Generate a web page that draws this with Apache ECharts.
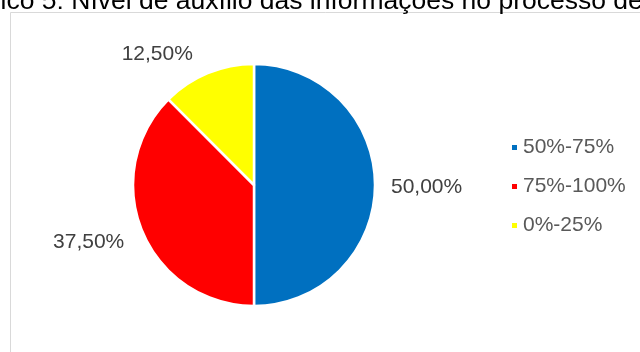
<!DOCTYPE html>
<html>
<head>
<meta charset="utf-8">
<script src="https://cdn.jsdelivr.net/npm/echarts@6/dist/echarts.min.js"></script>
<style>
  html, body { margin: 0; padding: 0; background: #ffffff; }
  #chart { width: 640px; height: 352px; }
</style>
</head>
<body>
<div id="chart"></div>
<script>
// Share of answers per level of help from the information
const categories = ['50%-75%', '75%-100%', '0%-25%'];
const shares = [50.0, 37.5, 12.5];
const sliceColors = ['#0070C0', '#FF0000', '#FFFF00'];
const titleText = 'Gráfico 5: Nível de auxílio das informações no processo de decisão';

// per-slice label placement (leader length, horizontal run, fine nudge)
const labelLineLen = [6, 14, 23];
const labelLineLen2 = [5, 0, 1];
const labelNudge = [[0, 2], [0, 6], [0, 2]];

const fmt = v => v.toFixed(2).replace('.', ',') + '%';

const chart = echarts.init(document.getElementById('chart'), null, { renderer: 'canvas' });

chart.setOption({
  animation: false,
  backgroundColor: '#ffffff',
  color: sliceColors,
  graphic: [
    {
      type: 'text',
      left: -51,
      top: -12,
      style: {
        text: titleText,
        font: '26.5px "Liberation Sans", Arial, sans-serif',
        fill: '#000000'
      }
    },
    {
      type: 'rect',
      shape: { x: 10.5, y: 12.5, width: 700, height: 400 },
      style: { fill: 'none', stroke: '#d9d9d9', lineWidth: 1 },
      z: -1
    }
  ],
  legend: {
    orient: 'vertical',
    left: 505,
    top: 132,
    icon: 'rect',
    itemWidth: 7,
    itemHeight: 7,
    itemGap: 18,
    textStyle: {
      fontFamily: '"Liberation Sans", Arial, sans-serif',
      fontSize: 21,
      lineHeight: 21,
      color: '#595959'
    },
    data: categories
  },
  series: [{
    type: 'pie',
    center: [254, 185],
    radius: 121,
    startAngle: 90,
    clockwise: true,
    avoidLabelOverlap: false,
    itemStyle: { borderColor: '#ffffff', borderWidth: 2.5 },
    emphasis: { disabled: true },
    label: {
      show: true,
      position: 'outside',
      fontFamily: '"Liberation Sans", Arial, sans-serif',
      fontSize: 21,
      color: '#404040',
      formatter: p => fmt(p.value)
    },
    labelLayout: p => ({ dx: labelNudge[p.dataIndex][0], dy: labelNudge[p.dataIndex][1] }),
    data: categories.map((name, i) => ({
      name: name,
      value: shares[i],
      labelLine: { show: false, length: labelLineLen[i], length2: labelLineLen2[i] }
    }))
  }]
});
</script>
</body>
</html>
